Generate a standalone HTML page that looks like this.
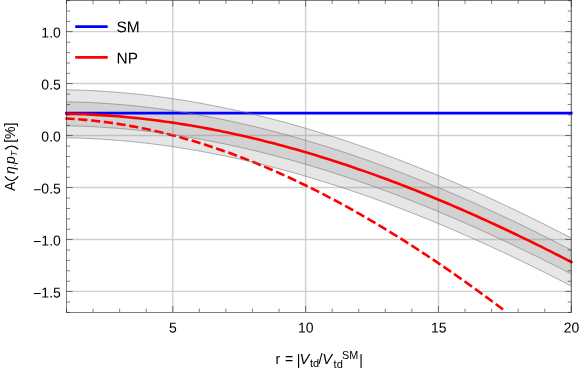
<!DOCTYPE html><html><head><meta charset="utf-8"><style>html,body{margin:0;padding:0;background:#fff}svg{display:block;will-change:transform}text{font-family:"Liberation Sans",sans-serif;fill:#000}</style></head><body>
<svg width="581" height="369" viewBox="0 0 581 369">
<rect width="581" height="369" fill="#fff"/>
<defs><clipPath id="c"><rect x="66.50" y="0.45" width="504.80" height="311.75"/></clipPath><clipPath id="c2"><rect x="64.50" y="0.45" width="508.80" height="311.75"/></clipPath></defs>
<path d="M172.77 0.45 V312.20 M305.62 0.45 V312.20 M438.46 0.45 V312.20 M571.30 0.45 V312.20 M66.50 31.60 H571.30 M66.50 83.56 H571.30 M66.50 135.52 H571.30 M66.50 187.48 H571.30 M66.50 239.44 H571.30 M66.50 291.40 H571.30" stroke="#666" stroke-opacity="0.31" stroke-width="1.4" fill="none"/>
<g clip-path="url(#c)">
<path d="M66.50 89.81 L70.74 89.89 L74.98 90.00 L79.23 90.12 L83.47 90.28 L87.71 90.45 L91.95 90.65 L96.19 90.87 L100.44 91.11 L104.68 91.38 L108.92 91.67 L113.16 91.98 L117.40 92.32 L121.65 92.67 L125.89 93.05 L130.13 93.45 L134.37 93.87 L138.61 94.32 L142.86 94.79 L147.10 95.27 L151.34 95.78 L155.58 96.32 L159.82 96.87 L164.07 97.44 L168.31 98.04 L172.55 98.66 L176.79 99.30 L181.03 99.95 L185.28 100.64 L189.52 101.34 L193.76 102.06 L198.00 102.80 L202.24 103.56 L206.49 104.35 L210.73 105.15 L214.97 105.98 L219.21 106.82 L223.45 107.68 L227.70 108.57 L231.94 109.47 L236.18 110.40 L240.42 111.34 L244.66 112.31 L248.91 113.29 L253.15 114.29 L257.39 115.31 L261.63 116.35 L265.87 117.41 L270.12 118.49 L274.36 119.59 L278.60 120.71 L282.84 121.85 L287.08 123.00 L291.33 124.17 L295.57 125.37 L299.81 126.58 L304.05 127.80 L308.29 129.05 L312.54 130.32 L316.78 131.60 L321.02 132.90 L325.26 134.22 L329.51 135.55 L333.75 136.91 L337.99 138.28 L342.23 139.67 L346.47 141.08 L350.72 142.50 L354.96 143.94 L359.20 145.40 L363.44 146.87 L367.68 148.37 L371.93 149.87 L376.17 151.40 L380.41 152.94 L384.65 154.50 L388.89 156.08 L393.14 157.67 L397.38 159.28 L401.62 160.90 L405.86 162.54 L410.10 164.20 L414.35 165.87 L418.59 167.56 L422.83 169.26 L427.07 170.98 L431.31 172.71 L435.56 174.46 L439.80 176.23 L444.04 178.01 L448.28 179.80 L452.52 181.61 L456.77 183.44 L461.01 185.28 L465.25 187.14 L469.49 189.01 L473.73 190.89 L477.98 192.79 L482.22 194.70 L486.46 196.63 L490.70 198.57 L494.94 200.53 L499.19 202.50 L503.43 204.48 L507.67 206.48 L511.91 208.49 L516.15 210.51 L520.40 212.55 L524.64 214.60 L528.88 216.67 L533.12 218.75 L537.36 220.84 L541.61 222.95 L545.85 225.06 L550.09 227.19 L554.33 229.34 L558.57 231.49 L562.82 233.66 L567.06 235.84 L571.30 238.04 L571.30 286.04 L567.06 283.84 L562.82 281.66 L558.57 279.49 L554.33 277.34 L550.09 275.19 L545.85 273.06 L541.61 270.95 L537.36 268.84 L533.12 266.75 L528.88 264.67 L524.64 262.60 L520.40 260.55 L516.15 258.51 L511.91 256.49 L507.67 254.48 L503.43 252.48 L499.19 250.50 L494.94 248.53 L490.70 246.57 L486.46 244.63 L482.22 242.70 L477.98 240.79 L473.73 238.89 L469.49 237.01 L465.25 235.14 L461.01 233.28 L456.77 231.44 L452.52 229.61 L448.28 227.80 L444.04 226.01 L439.80 224.23 L435.56 222.46 L431.31 220.71 L427.07 218.98 L422.83 217.26 L418.59 215.56 L414.35 213.87 L410.10 212.20 L405.86 210.54 L401.62 208.90 L397.38 207.28 L393.14 205.67 L388.89 204.08 L384.65 202.50 L380.41 200.94 L376.17 199.40 L371.93 197.87 L367.68 196.37 L363.44 194.87 L359.20 193.40 L354.96 191.94 L350.72 190.50 L346.47 189.08 L342.23 187.67 L337.99 186.28 L333.75 184.91 L329.51 183.55 L325.26 182.22 L321.02 180.90 L316.78 179.60 L312.54 178.32 L308.29 177.05 L304.05 175.80 L299.81 174.58 L295.57 173.37 L291.33 172.17 L287.08 171.00 L282.84 169.85 L278.60 168.71 L274.36 167.59 L270.12 166.49 L265.87 165.41 L261.63 164.35 L257.39 163.31 L253.15 162.29 L248.91 161.29 L244.66 160.31 L240.42 159.34 L236.18 158.40 L231.94 157.47 L227.70 156.57 L223.45 155.68 L219.21 154.82 L214.97 153.98 L210.73 153.15 L206.49 152.35 L202.24 151.56 L198.00 150.80 L193.76 150.06 L189.52 149.34 L185.28 148.64 L181.03 147.95 L176.79 147.30 L172.55 146.66 L168.31 146.04 L164.07 145.44 L159.82 144.87 L155.58 144.32 L151.34 143.78 L147.10 143.27 L142.86 142.79 L138.61 142.32 L134.37 141.87 L130.13 141.45 L125.89 141.05 L121.65 140.67 L117.40 140.32 L113.16 139.98 L108.92 139.67 L104.68 139.38 L100.44 139.11 L96.19 138.87 L91.95 138.65 L87.71 138.45 L83.47 138.28 L79.23 138.12 L74.98 138.00 L70.74 137.89 L66.50 137.81Z" fill="#808080" fill-opacity="0.2" stroke="none"/>
<path d="M66.50 101.81 L70.74 101.89 L74.98 102.00 L79.23 102.12 L83.47 102.28 L87.71 102.45 L91.95 102.65 L96.19 102.87 L100.44 103.11 L104.68 103.38 L108.92 103.67 L113.16 103.98 L117.40 104.32 L121.65 104.67 L125.89 105.05 L130.13 105.45 L134.37 105.87 L138.61 106.32 L142.86 106.79 L147.10 107.27 L151.34 107.78 L155.58 108.32 L159.82 108.87 L164.07 109.44 L168.31 110.04 L172.55 110.66 L176.79 111.30 L181.03 111.95 L185.28 112.64 L189.52 113.34 L193.76 114.06 L198.00 114.80 L202.24 115.56 L206.49 116.35 L210.73 117.15 L214.97 117.98 L219.21 118.82 L223.45 119.68 L227.70 120.57 L231.94 121.47 L236.18 122.40 L240.42 123.34 L244.66 124.31 L248.91 125.29 L253.15 126.29 L257.39 127.31 L261.63 128.35 L265.87 129.41 L270.12 130.49 L274.36 131.59 L278.60 132.71 L282.84 133.85 L287.08 135.00 L291.33 136.17 L295.57 137.37 L299.81 138.58 L304.05 139.80 L308.29 141.05 L312.54 142.32 L316.78 143.60 L321.02 144.90 L325.26 146.22 L329.51 147.55 L333.75 148.91 L337.99 150.28 L342.23 151.67 L346.47 153.08 L350.72 154.50 L354.96 155.94 L359.20 157.40 L363.44 158.87 L367.68 160.37 L371.93 161.87 L376.17 163.40 L380.41 164.94 L384.65 166.50 L388.89 168.08 L393.14 169.67 L397.38 171.28 L401.62 172.90 L405.86 174.54 L410.10 176.20 L414.35 177.87 L418.59 179.56 L422.83 181.26 L427.07 182.98 L431.31 184.71 L435.56 186.46 L439.80 188.23 L444.04 190.01 L448.28 191.80 L452.52 193.61 L456.77 195.44 L461.01 197.28 L465.25 199.14 L469.49 201.01 L473.73 202.89 L477.98 204.79 L482.22 206.70 L486.46 208.63 L490.70 210.57 L494.94 212.53 L499.19 214.50 L503.43 216.48 L507.67 218.48 L511.91 220.49 L516.15 222.51 L520.40 224.55 L524.64 226.60 L528.88 228.67 L533.12 230.75 L537.36 232.84 L541.61 234.95 L545.85 237.06 L550.09 239.19 L554.33 241.34 L558.57 243.49 L562.82 245.66 L567.06 247.84 L571.30 250.04 L571.30 274.04 L567.06 271.84 L562.82 269.66 L558.57 267.49 L554.33 265.34 L550.09 263.19 L545.85 261.06 L541.61 258.95 L537.36 256.84 L533.12 254.75 L528.88 252.67 L524.64 250.60 L520.40 248.55 L516.15 246.51 L511.91 244.49 L507.67 242.48 L503.43 240.48 L499.19 238.50 L494.94 236.53 L490.70 234.57 L486.46 232.63 L482.22 230.70 L477.98 228.79 L473.73 226.89 L469.49 225.01 L465.25 223.14 L461.01 221.28 L456.77 219.44 L452.52 217.61 L448.28 215.80 L444.04 214.01 L439.80 212.23 L435.56 210.46 L431.31 208.71 L427.07 206.98 L422.83 205.26 L418.59 203.56 L414.35 201.87 L410.10 200.20 L405.86 198.54 L401.62 196.90 L397.38 195.28 L393.14 193.67 L388.89 192.08 L384.65 190.50 L380.41 188.94 L376.17 187.40 L371.93 185.87 L367.68 184.37 L363.44 182.87 L359.20 181.40 L354.96 179.94 L350.72 178.50 L346.47 177.08 L342.23 175.67 L337.99 174.28 L333.75 172.91 L329.51 171.55 L325.26 170.22 L321.02 168.90 L316.78 167.60 L312.54 166.32 L308.29 165.05 L304.05 163.80 L299.81 162.58 L295.57 161.37 L291.33 160.17 L287.08 159.00 L282.84 157.85 L278.60 156.71 L274.36 155.59 L270.12 154.49 L265.87 153.41 L261.63 152.35 L257.39 151.31 L253.15 150.29 L248.91 149.29 L244.66 148.31 L240.42 147.34 L236.18 146.40 L231.94 145.47 L227.70 144.57 L223.45 143.68 L219.21 142.82 L214.97 141.98 L210.73 141.15 L206.49 140.35 L202.24 139.56 L198.00 138.80 L193.76 138.06 L189.52 137.34 L185.28 136.64 L181.03 135.95 L176.79 135.30 L172.55 134.66 L168.31 134.04 L164.07 133.44 L159.82 132.87 L155.58 132.32 L151.34 131.78 L147.10 131.27 L142.86 130.79 L138.61 130.32 L134.37 129.87 L130.13 129.45 L125.89 129.05 L121.65 128.67 L117.40 128.32 L113.16 127.98 L108.92 127.67 L104.68 127.38 L100.44 127.11 L96.19 126.87 L91.95 126.65 L87.71 126.45 L83.47 126.28 L79.23 126.12 L74.98 126.00 L70.74 125.89 L66.50 125.81Z" fill="#808080" fill-opacity="0.2" stroke="none"/>
</g>
<g clip-path="url(#c2)">
<path d="M65.30 113.05 H572.60" fill="none" stroke="#0000ff" stroke-width="2.8"/>
<path d="M65.30 113.81 L66.50 113.81 L70.74 113.89 L74.98 114.00 L79.23 114.12 L83.47 114.28 L87.71 114.45 L91.95 114.65 L96.19 114.87 L100.44 115.11 L104.68 115.38 L108.92 115.67 L113.16 115.98 L117.40 116.32 L121.65 116.67 L125.89 117.05 L130.13 117.45 L134.37 117.87 L138.61 118.32 L142.86 118.79 L147.10 119.27 L151.34 119.78 L155.58 120.32 L159.82 120.87 L164.07 121.44 L168.31 122.04 L172.55 122.66 L176.79 123.30 L181.03 123.95 L185.28 124.64 L189.52 125.34 L193.76 126.06 L198.00 126.80 L202.24 127.56 L206.49 128.35 L210.73 129.15 L214.97 129.98 L219.21 130.82 L223.45 131.68 L227.70 132.57 L231.94 133.47 L236.18 134.40 L240.42 135.34 L244.66 136.31 L248.91 137.29 L253.15 138.29 L257.39 139.31 L261.63 140.35 L265.87 141.41 L270.12 142.49 L274.36 143.59 L278.60 144.71 L282.84 145.85 L287.08 147.00 L291.33 148.17 L295.57 149.37 L299.81 150.58 L304.05 151.80 L308.29 153.05 L312.54 154.32 L316.78 155.60 L321.02 156.90 L325.26 158.22 L329.51 159.55 L333.75 160.91 L337.99 162.28 L342.23 163.67 L346.47 165.08 L350.72 166.50 L354.96 167.94 L359.20 169.40 L363.44 170.87 L367.68 172.37 L371.93 173.87 L376.17 175.40 L380.41 176.94 L384.65 178.50 L388.89 180.08 L393.14 181.67 L397.38 183.28 L401.62 184.90 L405.86 186.54 L410.10 188.20 L414.35 189.87 L418.59 191.56 L422.83 193.26 L427.07 194.98 L431.31 196.71 L435.56 198.46 L439.80 200.23 L444.04 202.01 L448.28 203.80 L452.52 205.61 L456.77 207.44 L461.01 209.28 L465.25 211.14 L469.49 213.01 L473.73 214.89 L477.98 216.79 L482.22 218.70 L486.46 220.63 L490.70 222.57 L494.94 224.53 L499.19 226.50 L503.43 228.48 L507.67 230.48 L511.91 232.49 L516.15 234.51 L520.40 236.55 L524.64 238.60 L528.88 240.67 L533.12 242.75 L537.36 244.84 L541.61 246.95 L545.85 249.06 L550.09 251.19 L554.33 253.34 L558.57 255.49 L562.82 257.66 L567.06 259.84 L571.30 262.04 L572.50 262.66" fill="none" stroke="#ff0000" stroke-width="2.6"/>
<path d="M65.40 118.53 L66.50 118.53 L70.17 118.73 L73.85 118.96 L77.52 119.22 L81.20 119.51 L84.87 119.83 L88.54 120.17 L92.22 120.54 L95.89 120.94 L99.56 121.36 L103.24 121.81 L106.91 122.29 L110.59 122.80 L114.26 123.33 L117.93 123.89 L121.61 124.47 L125.28 125.08 L128.95 125.72 L132.63 126.39 L136.30 127.08 L139.98 127.79 L143.65 128.53 L147.32 129.30 L151.00 130.10 L154.67 130.91 L158.35 131.76 L162.02 132.63 L165.69 133.52 L169.37 134.44 L173.04 135.39 L176.71 136.36 L180.39 137.36 L184.06 138.38 L187.74 139.42 L191.41 140.49 L195.08 141.58 L198.76 142.70 L202.43 143.84 L206.10 145.01 L209.78 146.20 L213.45 147.42 L217.13 148.65 L220.80 149.92 L224.47 151.20 L228.15 152.51 L231.82 153.84 L235.50 155.20 L239.17 156.58 L242.84 157.98 L246.52 159.40 L250.19 160.85 L253.86 162.32 L257.54 163.82 L261.21 165.33 L264.89 166.87 L268.56 168.43 L272.23 170.01 L275.91 171.62 L279.58 173.25 L283.25 174.89 L286.93 176.57 L290.60 178.26 L294.28 179.97 L297.95 181.71 L301.62 183.47 L305.30 185.24 L308.97 187.04 L312.65 188.86 L316.32 190.71 L319.99 192.57 L323.67 194.45 L327.34 196.36 L331.01 198.28 L334.69 200.23 L338.36 202.19 L342.04 204.18 L345.71 206.19 L349.38 208.21 L353.06 210.26 L356.73 212.32 L360.40 214.41 L364.08 216.52 L367.75 218.64 L371.43 220.79 L375.10 222.95 L378.77 225.13 L382.45 227.33 L386.12 229.56 L389.80 231.80 L393.47 234.06 L397.14 236.33 L400.82 238.63 L404.49 240.94 L408.16 243.28 L411.84 245.63 L415.51 248.00 L419.19 250.39 L422.86 252.79 L426.53 255.22 L430.21 257.66 L433.88 260.12 L437.55 262.59 L441.23 265.09 L444.90 267.60 L448.58 270.13 L452.25 272.67 L455.92 275.24 L459.60 277.82 L463.27 280.41 L466.95 283.03 L470.62 285.66 L474.29 288.31 L477.97 290.97 L481.64 293.65 L485.31 296.34 L488.99 299.06 L492.66 301.78 L496.34 304.53 L500.01 307.29 L503.68 310.06" fill="none" stroke="#ff0000" stroke-width="2.6" stroke-dasharray="9.2 3.65"/>
</g>
<g clip-path="url(#c)">
<path d="M66.50 89.81 L70.74 89.89 L74.98 90.00 L79.23 90.12 L83.47 90.28 L87.71 90.45 L91.95 90.65 L96.19 90.87 L100.44 91.11 L104.68 91.38 L108.92 91.67 L113.16 91.98 L117.40 92.32 L121.65 92.67 L125.89 93.05 L130.13 93.45 L134.37 93.87 L138.61 94.32 L142.86 94.79 L147.10 95.27 L151.34 95.78 L155.58 96.32 L159.82 96.87 L164.07 97.44 L168.31 98.04 L172.55 98.66 L176.79 99.30 L181.03 99.95 L185.28 100.64 L189.52 101.34 L193.76 102.06 L198.00 102.80 L202.24 103.56 L206.49 104.35 L210.73 105.15 L214.97 105.98 L219.21 106.82 L223.45 107.68 L227.70 108.57 L231.94 109.47 L236.18 110.40 L240.42 111.34 L244.66 112.31 L248.91 113.29 L253.15 114.29 L257.39 115.31 L261.63 116.35 L265.87 117.41 L270.12 118.49 L274.36 119.59 L278.60 120.71 L282.84 121.85 L287.08 123.00 L291.33 124.17 L295.57 125.37 L299.81 126.58 L304.05 127.80 L308.29 129.05 L312.54 130.32 L316.78 131.60 L321.02 132.90 L325.26 134.22 L329.51 135.55 L333.75 136.91 L337.99 138.28 L342.23 139.67 L346.47 141.08 L350.72 142.50 L354.96 143.94 L359.20 145.40 L363.44 146.87 L367.68 148.37 L371.93 149.87 L376.17 151.40 L380.41 152.94 L384.65 154.50 L388.89 156.08 L393.14 157.67 L397.38 159.28 L401.62 160.90 L405.86 162.54 L410.10 164.20 L414.35 165.87 L418.59 167.56 L422.83 169.26 L427.07 170.98 L431.31 172.71 L435.56 174.46 L439.80 176.23 L444.04 178.01 L448.28 179.80 L452.52 181.61 L456.77 183.44 L461.01 185.28 L465.25 187.14 L469.49 189.01 L473.73 190.89 L477.98 192.79 L482.22 194.70 L486.46 196.63 L490.70 198.57 L494.94 200.53 L499.19 202.50 L503.43 204.48 L507.67 206.48 L511.91 208.49 L516.15 210.51 L520.40 212.55 L524.64 214.60 L528.88 216.67 L533.12 218.75 L537.36 220.84 L541.61 222.95 L545.85 225.06 L550.09 227.19 L554.33 229.34 L558.57 231.49 L562.82 233.66 L567.06 235.84 L571.30 238.04" fill="none" stroke="#7a7a7a" stroke-width="0.6"/>
<path d="M66.50 101.81 L70.74 101.89 L74.98 102.00 L79.23 102.12 L83.47 102.28 L87.71 102.45 L91.95 102.65 L96.19 102.87 L100.44 103.11 L104.68 103.38 L108.92 103.67 L113.16 103.98 L117.40 104.32 L121.65 104.67 L125.89 105.05 L130.13 105.45 L134.37 105.87 L138.61 106.32 L142.86 106.79 L147.10 107.27 L151.34 107.78 L155.58 108.32 L159.82 108.87 L164.07 109.44 L168.31 110.04 L172.55 110.66 L176.79 111.30 L181.03 111.95 L185.28 112.64 L189.52 113.34 L193.76 114.06 L198.00 114.80 L202.24 115.56 L206.49 116.35 L210.73 117.15 L214.97 117.98 L219.21 118.82 L223.45 119.68 L227.70 120.57 L231.94 121.47 L236.18 122.40 L240.42 123.34 L244.66 124.31 L248.91 125.29 L253.15 126.29 L257.39 127.31 L261.63 128.35 L265.87 129.41 L270.12 130.49 L274.36 131.59 L278.60 132.71 L282.84 133.85 L287.08 135.00 L291.33 136.17 L295.57 137.37 L299.81 138.58 L304.05 139.80 L308.29 141.05 L312.54 142.32 L316.78 143.60 L321.02 144.90 L325.26 146.22 L329.51 147.55 L333.75 148.91 L337.99 150.28 L342.23 151.67 L346.47 153.08 L350.72 154.50 L354.96 155.94 L359.20 157.40 L363.44 158.87 L367.68 160.37 L371.93 161.87 L376.17 163.40 L380.41 164.94 L384.65 166.50 L388.89 168.08 L393.14 169.67 L397.38 171.28 L401.62 172.90 L405.86 174.54 L410.10 176.20 L414.35 177.87 L418.59 179.56 L422.83 181.26 L427.07 182.98 L431.31 184.71 L435.56 186.46 L439.80 188.23 L444.04 190.01 L448.28 191.80 L452.52 193.61 L456.77 195.44 L461.01 197.28 L465.25 199.14 L469.49 201.01 L473.73 202.89 L477.98 204.79 L482.22 206.70 L486.46 208.63 L490.70 210.57 L494.94 212.53 L499.19 214.50 L503.43 216.48 L507.67 218.48 L511.91 220.49 L516.15 222.51 L520.40 224.55 L524.64 226.60 L528.88 228.67 L533.12 230.75 L537.36 232.84 L541.61 234.95 L545.85 237.06 L550.09 239.19 L554.33 241.34 L558.57 243.49 L562.82 245.66 L567.06 247.84 L571.30 250.04" fill="none" stroke="#7a7a7a" stroke-width="0.6"/>
<path d="M66.50 125.81 L70.74 125.89 L74.98 126.00 L79.23 126.12 L83.47 126.28 L87.71 126.45 L91.95 126.65 L96.19 126.87 L100.44 127.11 L104.68 127.38 L108.92 127.67 L113.16 127.98 L117.40 128.32 L121.65 128.67 L125.89 129.05 L130.13 129.45 L134.37 129.87 L138.61 130.32 L142.86 130.79 L147.10 131.27 L151.34 131.78 L155.58 132.32 L159.82 132.87 L164.07 133.44 L168.31 134.04 L172.55 134.66 L176.79 135.30 L181.03 135.95 L185.28 136.64 L189.52 137.34 L193.76 138.06 L198.00 138.80 L202.24 139.56 L206.49 140.35 L210.73 141.15 L214.97 141.98 L219.21 142.82 L223.45 143.68 L227.70 144.57 L231.94 145.47 L236.18 146.40 L240.42 147.34 L244.66 148.31 L248.91 149.29 L253.15 150.29 L257.39 151.31 L261.63 152.35 L265.87 153.41 L270.12 154.49 L274.36 155.59 L278.60 156.71 L282.84 157.85 L287.08 159.00 L291.33 160.17 L295.57 161.37 L299.81 162.58 L304.05 163.80 L308.29 165.05 L312.54 166.32 L316.78 167.60 L321.02 168.90 L325.26 170.22 L329.51 171.55 L333.75 172.91 L337.99 174.28 L342.23 175.67 L346.47 177.08 L350.72 178.50 L354.96 179.94 L359.20 181.40 L363.44 182.87 L367.68 184.37 L371.93 185.87 L376.17 187.40 L380.41 188.94 L384.65 190.50 L388.89 192.08 L393.14 193.67 L397.38 195.28 L401.62 196.90 L405.86 198.54 L410.10 200.20 L414.35 201.87 L418.59 203.56 L422.83 205.26 L427.07 206.98 L431.31 208.71 L435.56 210.46 L439.80 212.23 L444.04 214.01 L448.28 215.80 L452.52 217.61 L456.77 219.44 L461.01 221.28 L465.25 223.14 L469.49 225.01 L473.73 226.89 L477.98 228.79 L482.22 230.70 L486.46 232.63 L490.70 234.57 L494.94 236.53 L499.19 238.50 L503.43 240.48 L507.67 242.48 L511.91 244.49 L516.15 246.51 L520.40 248.55 L524.64 250.60 L528.88 252.67 L533.12 254.75 L537.36 256.84 L541.61 258.95 L545.85 261.06 L550.09 263.19 L554.33 265.34 L558.57 267.49 L562.82 269.66 L567.06 271.84 L571.30 274.04" fill="none" stroke="#7a7a7a" stroke-width="0.6"/>
<path d="M66.50 137.81 L70.74 137.89 L74.98 138.00 L79.23 138.12 L83.47 138.28 L87.71 138.45 L91.95 138.65 L96.19 138.87 L100.44 139.11 L104.68 139.38 L108.92 139.67 L113.16 139.98 L117.40 140.32 L121.65 140.67 L125.89 141.05 L130.13 141.45 L134.37 141.87 L138.61 142.32 L142.86 142.79 L147.10 143.27 L151.34 143.78 L155.58 144.32 L159.82 144.87 L164.07 145.44 L168.31 146.04 L172.55 146.66 L176.79 147.30 L181.03 147.95 L185.28 148.64 L189.52 149.34 L193.76 150.06 L198.00 150.80 L202.24 151.56 L206.49 152.35 L210.73 153.15 L214.97 153.98 L219.21 154.82 L223.45 155.68 L227.70 156.57 L231.94 157.47 L236.18 158.40 L240.42 159.34 L244.66 160.31 L248.91 161.29 L253.15 162.29 L257.39 163.31 L261.63 164.35 L265.87 165.41 L270.12 166.49 L274.36 167.59 L278.60 168.71 L282.84 169.85 L287.08 171.00 L291.33 172.17 L295.57 173.37 L299.81 174.58 L304.05 175.80 L308.29 177.05 L312.54 178.32 L316.78 179.60 L321.02 180.90 L325.26 182.22 L329.51 183.55 L333.75 184.91 L337.99 186.28 L342.23 187.67 L346.47 189.08 L350.72 190.50 L354.96 191.94 L359.20 193.40 L363.44 194.87 L367.68 196.37 L371.93 197.87 L376.17 199.40 L380.41 200.94 L384.65 202.50 L388.89 204.08 L393.14 205.67 L397.38 207.28 L401.62 208.90 L405.86 210.54 L410.10 212.20 L414.35 213.87 L418.59 215.56 L422.83 217.26 L427.07 218.98 L431.31 220.71 L435.56 222.46 L439.80 224.23 L444.04 226.01 L448.28 227.80 L452.52 229.61 L456.77 231.44 L461.01 233.28 L465.25 235.14 L469.49 237.01 L473.73 238.89 L477.98 240.79 L482.22 242.70 L486.46 244.63 L490.70 246.57 L494.94 248.53 L499.19 250.50 L503.43 252.48 L507.67 254.48 L511.91 256.49 L516.15 258.51 L520.40 260.55 L524.64 262.60 L528.88 264.67 L533.12 266.75 L537.36 268.84 L541.61 270.95 L545.85 273.06 L550.09 275.19 L554.33 277.34 L558.57 279.49 L562.82 281.66 L567.06 283.84 L571.30 286.04" fill="none" stroke="#7a7a7a" stroke-width="0.6"/>
</g>
<path d="M66.50 312.20 v-3.60 M66.50 0.45 v3.60 M93.07 312.20 v-3.60 M93.07 0.45 v3.60 M119.64 312.20 v-3.60 M119.64 0.45 v3.60 M146.21 312.20 v-3.60 M146.21 0.45 v3.60 M172.77 312.20 v-6.20 M172.77 0.45 v6.20 M199.34 312.20 v-3.60 M199.34 0.45 v3.60 M225.91 312.20 v-3.60 M225.91 0.45 v3.60 M252.48 312.20 v-3.60 M252.48 0.45 v3.60 M279.05 312.20 v-3.60 M279.05 0.45 v3.60 M305.62 312.20 v-6.20 M305.62 0.45 v6.20 M332.18 312.20 v-3.60 M332.18 0.45 v3.60 M358.75 312.20 v-3.60 M358.75 0.45 v3.60 M385.32 312.20 v-3.60 M385.32 0.45 v3.60 M411.89 312.20 v-3.60 M411.89 0.45 v3.60 M438.46 312.20 v-6.20 M438.46 0.45 v6.20 M465.03 312.20 v-3.60 M465.03 0.45 v3.60 M491.59 312.20 v-3.60 M491.59 0.45 v3.60 M518.16 312.20 v-3.60 M518.16 0.45 v3.60 M544.73 312.20 v-3.60 M544.73 0.45 v3.60 M571.30 312.20 v-6.20 M571.30 0.45 v6.20 M66.50 312.38 h3.60 M571.30 312.38 h-3.60 M66.50 301.99 h3.60 M571.30 301.99 h-3.60 M66.50 291.40 h6.20 M571.30 291.40 h-6.20 M66.50 281.21 h3.60 M571.30 281.21 h-3.60 M66.50 270.82 h3.60 M571.30 270.82 h-3.60 M66.50 260.42 h3.60 M571.30 260.42 h-3.60 M66.50 250.03 h3.60 M571.30 250.03 h-3.60 M66.50 239.44 h6.20 M571.30 239.44 h-6.20 M66.50 229.25 h3.60 M571.30 229.25 h-3.60 M66.50 218.86 h3.60 M571.30 218.86 h-3.60 M66.50 208.46 h3.60 M571.30 208.46 h-3.60 M66.50 198.07 h3.60 M571.30 198.07 h-3.60 M66.50 187.48 h6.20 M571.30 187.48 h-6.20 M66.50 177.29 h3.60 M571.30 177.29 h-3.60 M66.50 166.90 h3.60 M571.30 166.90 h-3.60 M66.50 156.50 h3.60 M571.30 156.50 h-3.60 M66.50 146.11 h3.60 M571.30 146.11 h-3.60 M66.50 135.52 h6.20 M571.30 135.52 h-6.20 M66.50 125.33 h3.60 M571.30 125.33 h-3.60 M66.50 114.94 h3.60 M571.30 114.94 h-3.60 M66.50 104.54 h3.60 M571.30 104.54 h-3.60 M66.50 94.15 h3.60 M571.30 94.15 h-3.60 M66.50 83.56 h6.20 M571.30 83.56 h-6.20 M66.50 73.37 h3.60 M571.30 73.37 h-3.60 M66.50 62.98 h3.60 M571.30 62.98 h-3.60 M66.50 52.58 h3.60 M571.30 52.58 h-3.60 M66.50 42.19 h3.60 M571.30 42.19 h-3.60 M66.50 31.60 h6.20 M571.30 31.60 h-6.20 M66.50 21.41 h3.60 M571.30 21.41 h-3.60 M66.50 11.02 h3.60 M571.30 11.02 h-3.60 M66.50 0.62 h3.60 M571.30 0.62 h-3.60" stroke="#000" stroke-opacity="0.62" stroke-width="0.8" fill="none"/>
<rect x="66.50" y="0.45" width="504.80" height="312.00" fill="none" stroke="#000" stroke-opacity="0.6" stroke-width="0.85"/>
<text transform="translate(60.8 37.60) scale(1 1.02) rotate(0.03)" font-size="14" text-anchor="end">1.0</text>
<text transform="translate(60.8 89.56) scale(1 1.02) rotate(0.03)" font-size="14" text-anchor="end">0.5</text>
<text transform="translate(60.8 141.52) scale(1 1.02) rotate(0.03)" font-size="14" text-anchor="end">0.0</text>
<text transform="translate(60.8 193.48) scale(1 1.02) rotate(0.03)" font-size="14" text-anchor="end"><tspan dy="0.9">−</tspan><tspan dy="-0.9">0.5</tspan></text>
<text transform="translate(60.8 245.44) scale(1 1.02) rotate(0.03)" font-size="14" text-anchor="end"><tspan dy="0.9">−</tspan><tspan dy="-0.9">1.0</tspan></text>
<text transform="translate(60.8 297.40) scale(1 1.02) rotate(0.03)" font-size="14" text-anchor="end"><tspan dy="0.9">−</tspan><tspan dy="-0.9">1.5</tspan></text>
<text transform="translate(172.97 332.5) scale(1 1.02) rotate(0.03)" font-size="14" text-anchor="middle">5</text>
<text transform="translate(305.82 332.5) scale(1 1.02) rotate(0.03)" font-size="14" text-anchor="middle">10</text>
<text transform="translate(438.66 332.5) scale(1 1.02) rotate(0.03)" font-size="14" text-anchor="middle">15</text>
<text transform="translate(571.50 332.5) scale(1 1.02) rotate(0.03)" font-size="14" text-anchor="middle">20</text>
<path d="M75.2 26.7 H107.7" stroke="#0000ff" stroke-width="2.8"/>
<path d="M75.2 57.3 H107.7" stroke="#ff0000" stroke-width="2.8"/>
<text transform="translate(116.5 32.3) scale(1 1.0) rotate(0.03)" font-size="15.5">SM</text>
<text transform="translate(116.5 63.4) scale(1 1.0) rotate(0.03)" font-size="15.5">NP</text>
<g transform="translate(14.7 190.9) rotate(-90)" font-size="14"><text x="0" y="0">A</text><path d="M14.5 -9.7 Q6.3 -3.1 14.5 3.5" fill="none" stroke="#000" stroke-width="1.25"/><text x="16.8" y="0" font-style="italic">η</text><text x="24.7" y="0.2" font-size="7">,</text><text x="26.9" y="0" font-style="italic">p</text><text x="34.6" y="2.5" font-size="8.5" font-style="italic">T</text><path d="M41.6 -9.7 Q48.0 -3.1 41.6 3.5" fill="none" stroke="#000" stroke-width="1.25"/><text x="48.2" y="0">[</text><text x="52.0" y="0">%</text><text x="64.5" y="0">]</text></g>
<g font-size="14" transform="rotate(0.02 320 364)"><text x="275.5" y="364.3">r</text><text x="284.95" y="364.3">=</text><text x="296.7" y="364.9">|</text><text x="299.6" y="364.3" font-style="italic" font-size="14.8">V</text><text x="309.9" y="367.5" font-size="11">td</text><text x="318.45" y="364.3" font-size="14.5">/</text><text x="322.3" y="364.3" font-style="italic" font-size="14.8">V</text><text x="333.6" y="367.5" font-size="11">td</text><text x="342.0" y="358.6" font-size="10.8">SM</text><text x="359.2" y="364.9">|</text></g>
</svg></body></html>
